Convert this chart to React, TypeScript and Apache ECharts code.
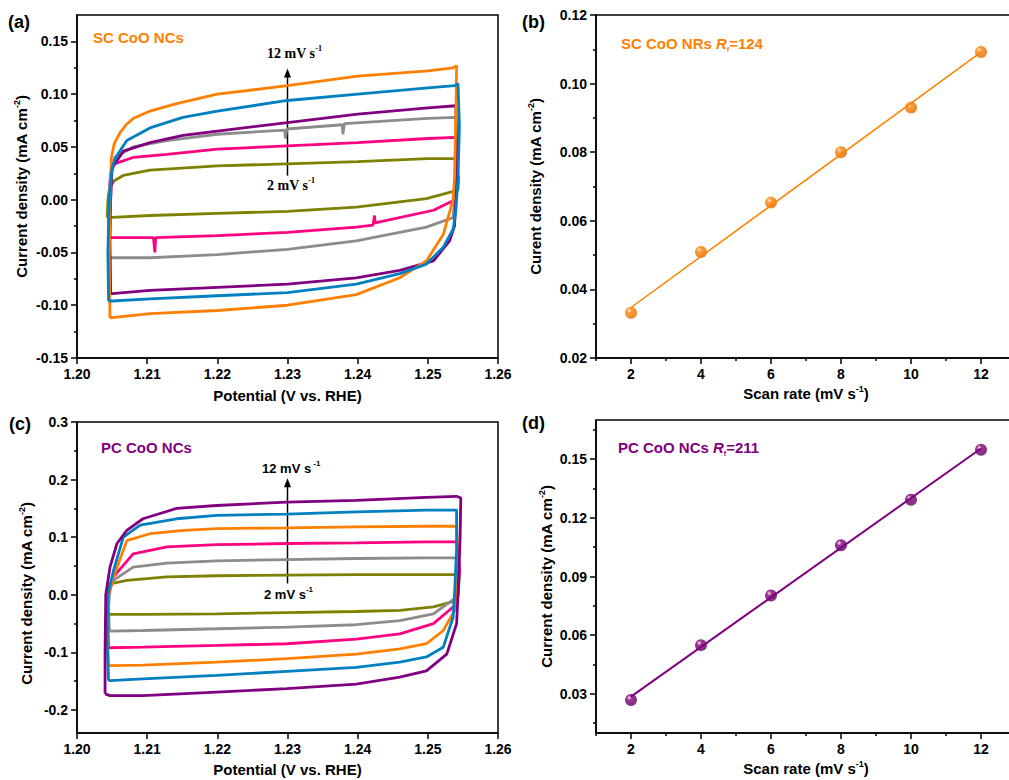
import { useEffect, useRef } from "react";
import * as echarts from "echarts";

// ---------- colours ----------
const OLIVE = "#808000";
const PINK = "#FF0080";
const GRAY = "#8C8C8C";
const PURPLE = "#800080";
const BLUE = "#0080C0";
const ORANGE = "#FF8000";

const SANS = '"Liberation Sans", Arial, Helvetica, sans-serif';
const SERIF = '"Liberation Serif", "Times New Roman", serif';

// ---------- (a) SC CoO NCs cyclic voltammograms: [potential V, current mA cm-2] ----------
const sc2 = [[1.2043,-0.017],[1.2044,0.0],[1.2047,0.012],[1.2053,0.018],[1.2066,0.023],[1.2104,0.028],[1.22,0.032],[1.23,0.034],[1.24,0.036],[1.25,0.039],[1.254,0.039],[1.2544,0.02],[1.2543,0.009],[1.2498,0.001],[1.2398,-0.007],[1.23,-0.011],[1.22,-0.013],[1.2104,-0.015],[1.2043,-0.017]];
const sc4 = [[1.2046,-0.036],[1.2045,0.0],[1.2048,0.025],[1.2053,0.034],[1.208,0.04],[1.2128,0.043],[1.22,0.048],[1.23,0.051],[1.24,0.054],[1.25,0.058],[1.254,0.059],[1.2541,0.03],[1.2536,-0.001],[1.2508,-0.01],[1.2425,-0.022],[1.2424,-0.015],[1.2422,-0.024],[1.2398,-0.026],[1.23,-0.031],[1.22,-0.034],[1.2112,-0.036],[1.2111,-0.05],[1.2109,-0.036],[1.2046,-0.036]];
const sc6 = [[1.2046,-0.055],[1.2045,-0.02],[1.2046,0.01],[1.205,0.03],[1.2054,0.04],[1.208,0.05],[1.2128,0.056],[1.22,0.062],[1.2296,0.066],[1.2297,0.058],[1.2299,0.067],[1.2378,0.071],[1.2379,0.062],[1.2381,0.072],[1.25,0.077],[1.254,0.078],[1.2541,0.04],[1.2538,0.0],[1.2536,-0.017],[1.2498,-0.026],[1.2398,-0.039],[1.23,-0.047],[1.22,-0.052],[1.2104,-0.055],[1.2046,-0.055]];
const sc8 = [[1.2048,-0.089],[1.2047,-0.04],[1.2048,0.0],[1.205,0.03],[1.2066,0.046],[1.2104,0.054],[1.2151,0.061],[1.22,0.065],[1.23,0.073],[1.24,0.081],[1.25,0.087],[1.254,0.089],[1.2541,0.05],[1.254,0.0],[1.2538,-0.025],[1.2531,-0.039],[1.2508,-0.058],[1.246,-0.067],[1.2398,-0.074],[1.23,-0.08],[1.22,-0.083],[1.2104,-0.086],[1.205,-0.089],[1.2048,-0.089]];
const sc10 = [[1.2045,-0.096],[1.2044,-0.05],[1.2046,0.0],[1.205,0.03],[1.2055,0.04],[1.2071,0.056],[1.2104,0.068],[1.2151,0.078],[1.22,0.084],[1.23,0.094],[1.24,0.1],[1.25,0.106],[1.2538,0.108],[1.2543,0.11],[1.2545,0.07],[1.2543,0.02],[1.254,-0.01],[1.2536,-0.028],[1.2522,-0.045],[1.2498,-0.061],[1.246,-0.07],[1.2398,-0.08],[1.23,-0.088],[1.22,-0.091],[1.2104,-0.094],[1.205,-0.096],[1.2045,-0.096]];
const sc12 = [[1.2047,-0.112],[1.2046,-0.06],[1.2047,0.0],[1.2049,0.04],[1.2053,0.053],[1.2061,0.063],[1.207,0.071],[1.208,0.077],[1.2104,0.084],[1.2142,0.091],[1.22,0.1],[1.23,0.108],[1.24,0.117],[1.25,0.122],[1.2536,0.125],[1.2541,0.127],[1.254,0.08],[1.2538,0.02],[1.2536,0.0],[1.2522,-0.033],[1.2498,-0.058],[1.246,-0.074],[1.2398,-0.09],[1.23,-0.1],[1.22,-0.105],[1.2104,-0.108],[1.2047,-0.112]];

// ---------- (c) PC CoO NCs cyclic voltammograms ----------
const pc2 = [[1.2043,-0.034],[1.2043,0.0],[1.2047,0.019],[1.2071,0.025],[1.2128,0.031],[1.2199,0.033],[1.2299,0.034],[1.2398,0.035],[1.2498,0.035],[1.2541,0.035],[1.2543,0.01],[1.2541,-0.01],[1.2508,-0.021],[1.246,-0.027],[1.2398,-0.029],[1.2299,-0.031],[1.2199,-0.033],[1.2094,-0.034],[1.2043,-0.034]];
const pc4 = [[1.2046,-0.063],[1.2045,-0.02],[1.2047,0.01],[1.2052,0.025],[1.208,0.048],[1.2128,0.055],[1.2199,0.059],[1.2299,0.061],[1.2398,0.063],[1.2498,0.064],[1.2541,0.064],[1.2546,0.04],[1.2543,0.0],[1.2541,-0.004],[1.2508,-0.033],[1.246,-0.045],[1.2398,-0.052],[1.2299,-0.056],[1.2199,-0.059],[1.2094,-0.062],[1.2047,-0.063],[1.2046,-0.063]];
const pc6 = [[1.2045,-0.092],[1.2044,-0.04],[1.2045,0.0],[1.2052,0.031],[1.208,0.071],[1.2128,0.083],[1.2199,0.087],[1.2299,0.089],[1.2398,0.09],[1.2498,0.092],[1.2541,0.092],[1.2545,0.05],[1.2543,0.0],[1.2541,-0.016],[1.2508,-0.05],[1.246,-0.068],[1.2398,-0.077],[1.2299,-0.085],[1.2199,-0.088],[1.2094,-0.091],[1.2047,-0.092],[1.2045,-0.092]];
const pc8 = [[1.2045,-0.123],[1.2043,-0.06],[1.2045,0.0],[1.2052,0.031],[1.2071,0.094],[1.2104,0.106],[1.2152,0.112],[1.2199,0.115],[1.2299,0.116],[1.2398,0.118],[1.2498,0.119],[1.2541,0.119],[1.2543,0.06],[1.2541,0.0],[1.2541,-0.021],[1.2522,-0.062],[1.2498,-0.085],[1.246,-0.094],[1.2398,-0.103],[1.2299,-0.111],[1.2199,-0.117],[1.2094,-0.122],[1.2047,-0.123],[1.2045,-0.123]];
const pc10 = [[1.2045,-0.149],[1.2043,-0.08],[1.2044,0.0],[1.2052,0.042],[1.2066,0.1],[1.209,0.121],[1.2142,0.132],[1.2199,0.138],[1.2299,0.14],[1.2398,0.144],[1.2498,0.147],[1.2541,0.147],[1.2541,0.08],[1.2538,0.0],[1.2536,-0.039],[1.2522,-0.091],[1.2498,-0.108],[1.246,-0.117],[1.2398,-0.126],[1.2299,-0.133],[1.2199,-0.14],[1.2094,-0.146],[1.2047,-0.149],[1.2045,-0.149]];
const pc12 = [[1.204,-0.172],[1.204,-0.1],[1.2041,0.0],[1.2047,0.048],[1.2057,0.089],[1.2071,0.112],[1.2094,0.132],[1.2142,0.15],[1.2199,0.155],[1.2299,0.161],[1.2398,0.164],[1.2498,0.169],[1.2541,0.171],[1.2547,0.168],[1.2546,0.1],[1.2543,0.0],[1.2541,-0.05],[1.2527,-0.103],[1.2498,-0.132],[1.246,-0.143],[1.2398,-0.155],[1.2299,-0.163],[1.2199,-0.169],[1.2094,-0.175],[1.2047,-0.175],[1.204,-0.172]];

// ---------- (b), (d) current density vs. scan rate ----------
const scanRates = [2, 4, 6, 8, 10, 12];
const scDensity = [0.0332, 0.0509, 0.0653, 0.08, 0.093, 0.1092];
const pcDensity = [0.0269, 0.0549, 0.0803, 0.106, 0.1292, 0.1548];

// ---------- tick values ----------
const potentialTicks = [1.2, 1.21, 1.22, 1.23, 1.24, 1.25, 1.26];
const scanTicks = [2, 4, 6, 8, 10, 12];
const scanMinorTicks = [1, 3, 5, 7, 9, 11, 13];
const aTicks = [-0.15, -0.1, -0.05, 0, 0.05, 0.1, 0.15];
const aMinorTicks = [-0.125, -0.075, -0.025, 0.025, 0.075, 0.125];
const bTicks = [0.02, 0.04, 0.06, 0.08, 0.1, 0.12];
const bMinorTicks = [0.03, 0.05, 0.07, 0.09, 0.11];
const cTicks = [-0.2, -0.1, 0, 0.1, 0.2, 0.3];
const cMinorTicks = [-0.15, -0.05, 0.05, 0.15, 0.25];
const dTicks = [0.03, 0.06, 0.09, 0.12, 0.15];
const dMinorTicks = [0.015, 0.045, 0.075, 0.105, 0.135, 0.165];

// least-squares line through the points
function fitLine(xs: number[], ys: number[]) {
  const n = xs.length;
  const mx = xs.reduce((s, v) => s + v, 0) / n;
  const my = ys.reduce((s, v) => s + v, 0) / n;
  let sxy = 0, sxx = 0;
  for (let i = 0; i < n; i++) {
    sxy += (xs[i] - mx) * (ys[i] - my);
    sxx += (xs[i] - mx) * (xs[i] - mx);
  }
  const k = sxy / sxx;
  const b = my - k * mx;
  const x0 = xs[0], x1 = xs[n - 1];
  return [[x0, k * x0 + b], [x1, k * x1 + b]];
}

const tickLabel = { fontFamily: SANS, fontSize: 14, fontWeight: "bold", color: "#000" };
const nameRich = {
  b: { fontFamily: SANS, fontSize: 15, fontWeight: "bold", color: "#000", lineHeight: 18 },
  sup: { fontFamily: SANS, fontSize: 9, fontWeight: "bold", color: "#000", verticalAlign: "top", lineHeight: 9 },
};
const densityName = "{b|Current density (mA cm}{sup|-2}{b|)}";

function mainAxis(
  gridIndex: number, min: number, max: number, ticks: number[], digits: number,
  name: string, nameGap: number, padding?: number[],
) {
  return {
    type: "value", gridIndex, min, max,
    axisLine: { show: true, onZero: false, lineStyle: { color: "#000", width: 1.5 } },
    axisTick: { show: true, customValues: ticks, length: 6, lineStyle: { color: "#000", width: 1.5 } },
    axisLabel: {
      show: true, customValues: ticks, margin: 9, ...tickLabel,
      formatter: (v: number) => v.toFixed(digits),
    },
    splitLine: { show: false },
    name, nameLocation: "middle", nameGap,
    nameTextStyle: { rich: nameRich, padding: padding || 0 },
  };
}

function minorAxis(gridIndex: number, min: number, max: number, ticks: number[], position: string) {
  return {
    type: "value", gridIndex, min, max, position, offset: 0,
    axisLine: { show: false, onZero: false },
    axisTick: { show: true, customValues: ticks, length: 3, lineStyle: { color: "#000", width: 1.5 } },
    axisLabel: { show: false },
    splitLine: { show: false },
  };
}

function cv(data: number[][], color: string, xi: number, yi: number) {
  return {
    type: "line", data, xAxisIndex: xi, yAxisIndex: yi,
    showSymbol: false, symbol: "none", silent: true,
    lineStyle: { color, width: 2.8 },
  };
}

function ball(color: string, dark: string) {
  return new echarts.graphic.RadialGradient(0.35, 0.32, 0.7, [
    { offset: 0, color: "#FFE6CC" },
    { offset: 0.3, color },
    { offset: 1, color: dark },
  ]);
}

function ratePanel(ys: number[], color: string, dark: string, xi: number, yi: number, width: number) {
  return [
    {
      type: "line", data: fitLine(scanRates, ys), xAxisIndex: xi, yAxisIndex: yi,
      showSymbol: false, symbol: "none", silent: true,
      lineStyle: { color, width },
    },
    {
      type: "scatter", data: scanRates.map((x, i) => [x, ys[i]]), xAxisIndex: xi, yAxisIndex: yi,
      symbol: "circle", symbolSize: 12, silent: true,
      itemStyle: { color: ball(color, dark) },
    },
  ];
}

const grid = (left: number, top: number, width: number, height: number) => ({
  left, top, width, height, show: true, borderColor: "#000", borderWidth: 1.5,
  outerBoundsMode: "none", containLabel: false,
});

const option = {
  animation: false,
  backgroundColor: "#fff",
  grid: [
    grid(77, 15, 421, 343),
    grid(596, 15, 420, 343),
    grid(77, 422, 421, 311),
    grid(596, 420, 420, 313),
  ],
  xAxis: [
    mainAxis(0, 1.2, 1.26, potentialTicks, 2, "{b|Potential (V vs. RHE)}", 28),
    mainAxis(1, 1, 13, scanTicks, 0, "{b|Scan rate (mV s}{sup|-1}{b|)}", 26),
    mainAxis(2, 1.2, 1.26, potentialTicks, 2, "{b|Potential (V vs. RHE)}", 27),
    mainAxis(3, 1, 13, scanTicks, 0, "{b|Scan rate (mV s}{sup|-1}{b|)}", 26),
    minorAxis(1, 1, 13, scanMinorTicks, "bottom"),
    minorAxis(3, 1, 13, scanMinorTicks, "bottom"),
  ],
  yAxis: [
    mainAxis(0, -0.15, 0.175, aTicks, 2, densityName, 47),
    mainAxis(1, 0.02, 0.12, bTicks, 2, "{b|Curent density (mA cm}{sup|-2}{b|)}", 52),
    mainAxis(2, -0.24, 0.3, cTicks, 1, densityName, 42, [0, 32, 0, 0]),
    mainAxis(3, 0.01, 0.17, dTicks, 2, densityName, 41),
    minorAxis(0, -0.15, 0.175, aMinorTicks, "left"),
    minorAxis(1, 0.02, 0.12, bMinorTicks, "left"),
    minorAxis(2, -0.24, 0.3, cMinorTicks, "left"),
    minorAxis(3, 0.01, 0.17, dMinorTicks, "left"),
  ],
  series: [
    cv(sc2, OLIVE, 0, 0),
    cv(sc4, PINK, 0, 0),
    cv(sc6, GRAY, 0, 0),
    cv(sc8, PURPLE, 0, 0),
    cv(sc12, ORANGE, 0, 0),
    cv(sc10, BLUE, 0, 0),
    cv(pc2, OLIVE, 2, 2),
    cv(pc4, GRAY, 2, 2),
    cv(pc6, PINK, 2, 2),
    cv(pc8, ORANGE, 2, 2),
    cv(pc10, BLUE, 2, 2),
    cv(pc12, PURPLE, 2, 2),
    ...ratePanel(scDensity, ORANGE, "#D96A00", 1, 1, 1.5),
    ...ratePanel(pcDensity, PURPLE, "#5A005A", 3, 3, 2),
  ],
};

function label(x: number, y: number, text: string, rich: any) {
  return { type: "text", x, y, style: { text, rich, verticalAlign: "middle", align: "left" } };
}

function rateRich(fontFamily: string, weight: string, size: number) {
  return {
    t: { fontFamily, fontSize: size, fontWeight: weight, fill: "#000", lineHeight: 18 },
    sup: { fontFamily, fontSize: 8, fontWeight: weight, fill: "#000", verticalAlign: "top", lineHeight: 8 },
  };
}

function titleRich(color: string) {
  return {
    t: { fontFamily: SANS, fontSize: 15, fontWeight: "bold", fill: color, lineHeight: 20 },
    i: { fontFamily: SANS, fontSize: 15, fontWeight: "bold", fontStyle: "italic", fill: color, lineHeight: 20 },
    sub: { fontFamily: SANS, fontSize: 7, fontWeight: "bold", fill: color, verticalAlign: "bottom", lineHeight: 7 },
  };
}

const panelRich = { p: { fontFamily: SANS, fontSize: 18, fontWeight: "bold", fill: "#000" } };

function arrow(tail: number[], tip: number[]) {
  return [
    {
      type: "line",
      shape: { x1: tail[0], y1: tail[1], x2: tip[0], y2: tip[1] + 6 },
      style: { stroke: "#000", lineWidth: 1.5 },
    },
    {
      type: "polygon",
      shape: { points: [[tip[0], tip[1]], [tip[0] - 3.5, tip[1] + 9], [tip[0] + 3.5, tip[1] + 9]] },
      style: { fill: "#000" },
    },
  ];
}

export default function App() {
  const ref = useRef<HTMLDivElement>(null);
  useEffect(() => {
    const el = ref.current;
    if (!el) return;
    const chart = echarts.init(el, null, { renderer: "svg" });
    chart.setOption(option as any);
    const px = (xi: number, yi: number, pt: number[]) =>
      chart.convertToPixel({ xAxisIndex: xi, yAxisIndex: yi } as any, pt) as number[];
    const aTail = px(0, 0, [1.23, 0.0228]);
    const aTip = px(0, 0, [1.23, 0.1243]);
    const cTail = px(2, 2, [1.23, 0.0197]);
    const cTip = px(2, 2, [1.23, 0.2023]);
    const serif = rateRich(SERIF, "bold", 14);
    const sans = rateRich(SANS, "bold", 13);
    chart.setOption({
      graphic: [
        label(8, 22, "{p|(a)}", panelRich),
        label(522, 22, "{p|(b)}", panelRich),
        label(9, 424, "{p|(c)}", panelRich),
        label(522, 423, "{p|(d)}", panelRich),
        label(93, 37, "{t|SC CoO NCs}", titleRich(ORANGE)),
        label(621, 43, "{t|SC CoO NRs }{i|R}{sub|f}{t|=124}", titleRich(ORANGE)),
        label(101, 447, "{t|PC CoO NCs}", titleRich(PURPLE)),
        label(618, 447, "{t|PC CoO NCs }{i|R}{sub|f}{t|=211}", titleRich(PURPLE)),
        label(267, 53, "{t|12 mV s}{sup|-1}", serif),
        label(267, 185, "{t|2 mV s}{sup|-1}", serif),
        label(262, 468, "{t|12 mV s}{sup| -1}", sans),
        label(264, 594, "{t|2 mV s}{sup|-1}", sans),
        ...arrow(aTail, aTip),
        ...arrow(cTail, cTip),
      ],
    } as any);
    return () => chart.dispose();
  }, []);
  return (
    <div
      ref={ref}
      style={{ position: "absolute", left: 0, top: 0, width: 1009, height: 780, background: "#fff" }}
    />
  );
}
